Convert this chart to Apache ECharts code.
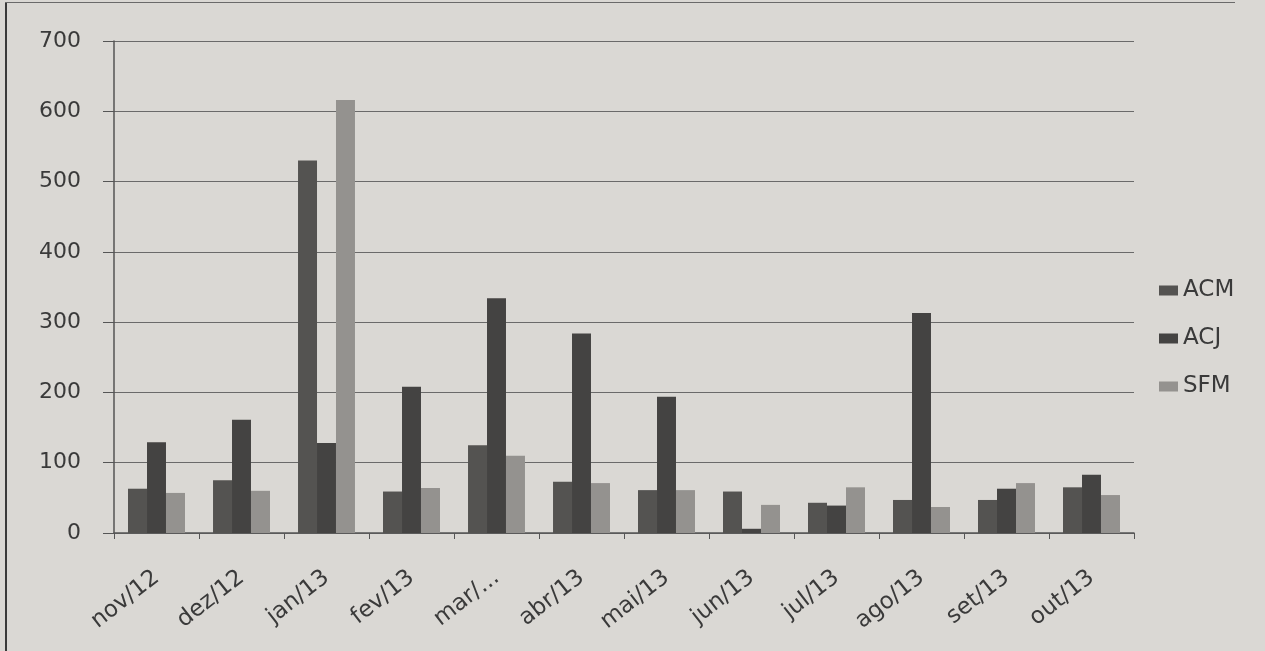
<!DOCTYPE html>
<html>
<head>
<meta charset="utf-8">
<script src="https://cdn.jsdelivr.net/npm/echarts@6/dist/echarts.min.js"></script>
<style>
  html, body { margin: 0; padding: 0; background: #dad8d4; }
  #chart { width: 1265px; height: 651px; }
  .frame-left { position: absolute; left: 5px; top: 2px; width: 2px; height: 649px; background: #3a3a3a; }
  .frame-top { position: absolute; left: 5px; top: 2px; width: 1230px; height: 1px; background: #6a6a6a; }
</style>
</head>
<body>
<div id="chart"></div>
<div class="frame-left"></div>
<div class="frame-top"></div>
<script>
// months (nov/12 .. out/13)
const categories = ['nov/12', 'dez/12', 'jan/13', 'fev/13', 'mar/...', 'abr/13', 'mai/13', 'jun/13', 'jul/13', 'ago/13', 'set/13', 'out/13']
const acm = [63, 75, 530, 59, 125, 73, 61, 59, 43, 47, 47, 65]
const acj = [129, 161, 128, 208, 334, 284, 194, 6, 39, 313, 63, 83]
const sfm = [57, 60, 616, 64, 110, 71, 61, 40, 65, 37, 71, 54]
const yTicks = [0, 100, 200, 300, 400, 500, 600, 700]

const font = '"DejaVu Sans", sans-serif'
const chart = echarts.init(document.getElementById('chart'))

function bar (name, data, color) {
  return {
    name: name,
    type: 'bar',
    data: data,
    barGap: '0%',
    barCategoryGap: '33%',
    itemStyle: { color: color },
    animation: false
  }
}

chart.setOption({
  backgroundColor: '#dad8d4',
  textStyle: { fontFamily: font },
  grid: {
    left: 114,
    right: 131,
    top: 41,
    bottom: 118
  },
  legend: {
    orient: 'vertical',
    left: 1154,
    top: 274,
    icon: 'rect',
    itemWidth: 19,
    itemHeight: 10,
    itemGap: 25,
    textStyle: { fontSize: 23, color: '#3a3a3a', fontFamily: font },
    data: ['ACM', 'ACJ', 'SFM']
  },
  xAxis: {
    type: 'category',
    data: categories,
    axisLine: { lineStyle: { color: '#555', width: 1.5 } },
    axisTick: { show: true, length: 6, lineStyle: { color: '#555' } },
    axisLabel: {
      rotate: 38,
      fontSize: 23,
      color: '#3a3a3a',
      margin: 42,
      fontFamily: font
    }
  },
  yAxis: {
    type: 'value',
    min: yTicks[0],
    max: yTicks[yTicks.length - 1],
    interval: 100,
    axisLine: { show: true, lineStyle: { color: '#555', width: 1.5 } },
    axisTick: { show: true, length: 11, lineStyle: { color: '#555' } },
    axisLabel: {
      fontSize: 22,
      color: '#3a3a3a',
      margin: 33,
      fontFamily: font
    },
    splitLine: { lineStyle: { color: '#6a6a6a', width: 1.2 } }
  },
  series: [
    bar('ACM', acm, '#545351'),
    bar('ACJ', acj, '#444342'),
    bar('SFM', sfm, '#94928f')
  ]
})
</script>
</body>
</html>
